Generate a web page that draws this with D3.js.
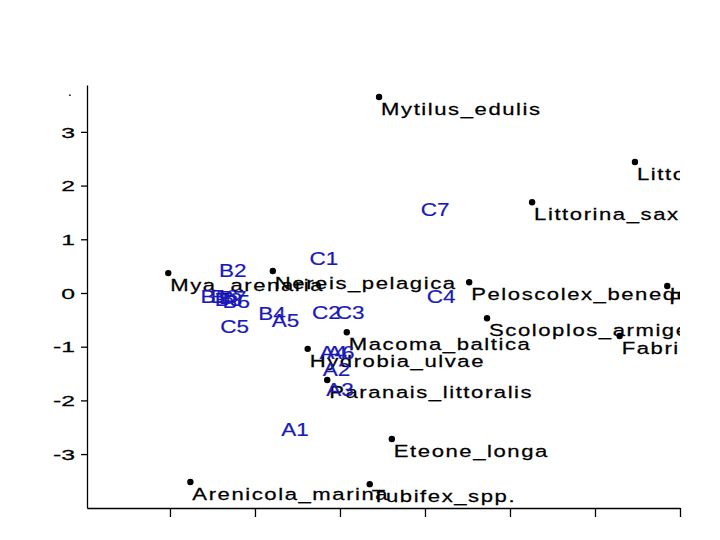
<!DOCTYPE html>
<html><head><meta charset="utf-8">
<script src="https://cdn.jsdelivr.net/npm/d3@7"></script>
<style>body{margin:0;background:#fff}</style>
</head><body><svg id="c" width="720" height="540"></svg>
<script>
// Species (black points)
const speciesNames = ["Mytilus_edulis","Littorina_littorea","Littorina_saxatilis","Mya_arenaria","Nereis_pelagica","Peloscolex_benedeni","Pygospio_elegans","Scoloplos_armiger","Fabricia_sabella","Macoma_baltica","Hydrobia_ulvae","Paranais_littoralis","Eteone_longa","Arenicola_marina","Tubifex_spp."];
const speciesX = [-0.54, 2.47, 1.26, -3.02, -1.79, 0.52, 2.85, 0.73, 2.29, -0.92, -1.38, -1.15, -0.39, -2.76, -0.65];
const speciesY = [3.65, 2.44, 1.69, 0.37, 0.41, 0.20, 0.13, -0.47, -0.80, -0.73, -1.04, -1.62, -2.72, -3.52, -3.56];
// Samples (blue labels)
const sampleNames = ["A1","A2","A3","A4","A5","A6","B1","B2","B3","B4","B5","B6","B7","C1","C2","C3","C4","C5","C7"];
const sampleX = [-1.53, -1.04, -1.00, -1.08, -1.64, -0.99, -2.48, -2.26, -2.31, -1.80, -2.22, -2.36, -2.26, -1.19, -1.16, -0.88, 0.19, -2.24, 0.12];
const sampleY = [-2.55, -1.43, -1.81, -1.12, -0.52, -1.12, -0.07, 0.41, -0.13, -0.39, -0.17, -0.07, -0.09, 0.63, -0.37, -0.37, -0.07, -0.63, 1.55];
const yTicks = [-3, -2, -1, 0, 1, 2, 3];
const xTicks = [-3, -2, -1, 0, 1, 2, 3];

const svg = d3.select("#c");
const pLeft = 87, pRight = 680, pTop = 85, pBottom = 508;
const x = d3.scaleLinear().domain([-3.976, 3]).range([pLeft, pRight]);
const y = d3.scaleLinear().domain([-4.004, 3.873]).range([pBottom, pTop]);
const font = "'Liberation Sans', Arial, sans-serif";

svg.append("defs").append("clipPath").attr("id", "clip")
  .append("rect").attr("x", pLeft).attr("y", 0).attr("width", pRight - pLeft).attr("height", 540);

// Y axis
const ya = svg.append("g").attr("transform", `translate(${pLeft},0)`)
  .call(d3.axisLeft(y).tickValues(yTicks).tickSize(6).tickSizeOuter(0).tickFormat(""));
ya.selectAll("path,line").attr("stroke", "#000").attr("stroke-width", 1.3);
svg.append("g").selectAll("text").data(yTicks).join("text")
  .attr("transform", d => `translate(75,${y(d)}) scale(1.6,1)`)
  .attr("text-anchor", "end").attr("dominant-baseline", "central")
  .attr("font-family", font).attr("font-size", 15.5).attr("fill", "#000")
  .attr("stroke", "#000").attr("stroke-width", 0.25)
  .text(d => d);
svg.append("text").attr("x", 72).attr("y", 96).attr("text-anchor", "end")
  .attr("font-family", font).attr("font-size", 15).text(".");

// X axis
const xa = svg.append("g").attr("transform", `translate(0,${pBottom})`)
  .call(d3.axisBottom(x).tickValues(xTicks).tickSize(9).tickSizeOuter(0).tickFormat(""));
xa.selectAll("path,line").attr("stroke", "#000").attr("stroke-width", 1.3);

const plot = svg.append("g").attr("clip-path", "url(#clip)");

// Species points and labels
const sp = speciesNames.map((n, i) => ({n, x: speciesX[i], y: speciesY[i]}));
plot.selectAll("circle.sp").data(sp).join("circle")
  .attr("cx", d => x(d.x)).attr("cy", d => y(d.y)).attr("r", 3.2).attr("fill", "#000");
plot.selectAll("text.sp").data(sp).join("text")
  .attr("transform", d => `translate(${x(d.x) + 2},${y(d.y) + 18}) scale(1.3,1)`)
  .attr("font-family", font).attr("font-size", 17).attr("letter-spacing", 1.2)
  .attr("fill", "#000").attr("stroke", "#000").attr("stroke-width", 0.25)
  .text(d => d.n);

// Sample labels
const sm = sampleNames.map((n, i) => ({n, x: sampleX[i], y: sampleY[i]}));
plot.selectAll("text.sm").data(sm).join("text")
  .attr("transform", d => `translate(${x(d.x)},${y(d.y)}) scale(1.25,1)`)
  .attr("text-anchor", "middle").attr("dominant-baseline", "central")
  .attr("font-family", font).attr("font-size", 18)
  .attr("fill", "#1a1ab8").attr("stroke", "#1a1ab8").attr("stroke-width", 0.2)
  .text(d => d.n);
</script></body></html>
